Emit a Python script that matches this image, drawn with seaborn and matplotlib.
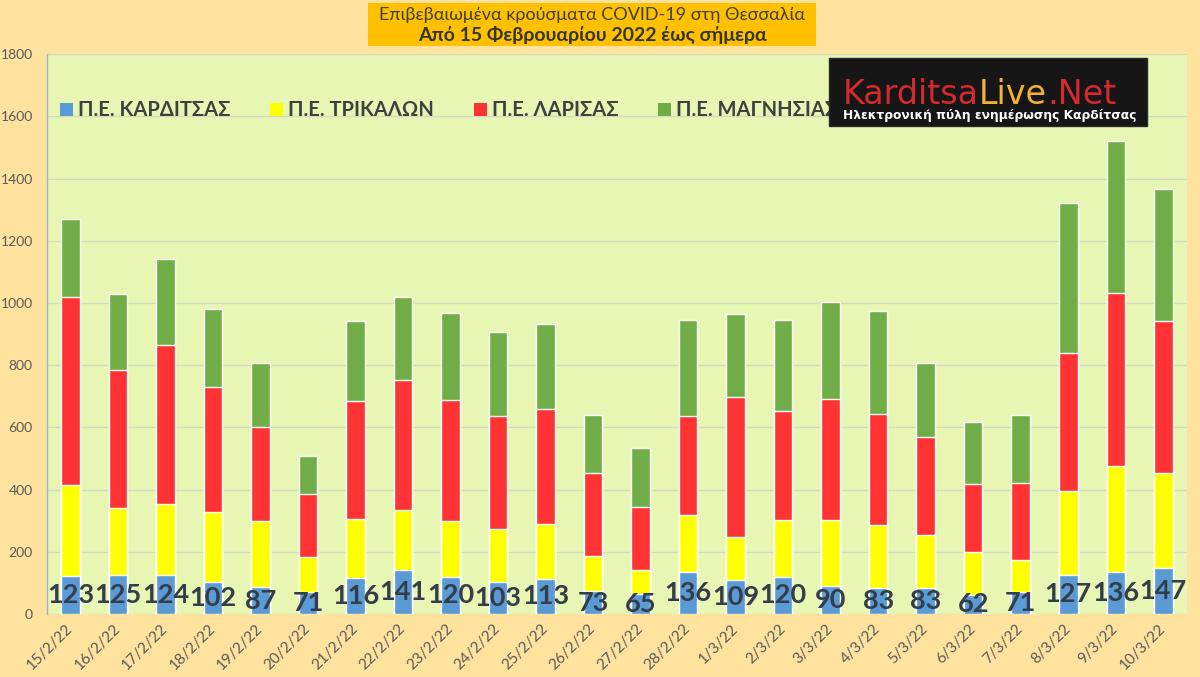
import matplotlib
matplotlib.use('Agg')
import matplotlib.pyplot as plt
import pandas as pd
import seaborn as sns
from matplotlib.patches import Rectangle, Patch

# daily confirmed cases per regional unit
dates = ['15/2/22', '16/2/22', '17/2/22', '18/2/22', '19/2/22', '20/2/22', '21/2/22',
         '22/2/22', '23/2/22', '24/2/22', '25/2/22', '26/2/22', '27/2/22', '28/2/22',
         '1/3/22', '2/3/22', '3/3/22', '4/3/22', '5/3/22', '6/3/22', '7/3/22',
         '8/3/22', '9/3/22', '10/3/22']
karditsa = [123, 125, 124, 102, 87, 71, 116, 141, 120, 103, 113, 73, 65, 136,
            109, 120, 90, 83, 83, 62, 71, 127, 136, 147]
trikala = [292, 215, 229, 225, 213, 113, 190, 195, 180, 171, 178, 114, 77, 183,
           140, 182, 212, 203, 170, 138, 104, 270, 340, 308]
larisa = [603, 443, 513, 404, 302, 202, 380, 415, 389, 362, 369, 268, 202, 318,
          450, 351, 388, 358, 317, 218, 247, 441, 555, 486]
magnisia = [253, 245, 274, 249, 206, 122, 257, 267, 278, 270, 271, 185, 189, 307,
            267, 291, 312, 329, 238, 201, 218, 485, 489, 427]

names = ['Π.Ε. ΚΑΡΔΙΤΣΑΣ', 'Π.Ε. ΤΡΙΚΑΛΩΝ', 'Π.Ε. ΛΑΡΙΣΑΣ', 'Π.Ε. ΜΑΓΝΗΣΙΑΣ']
colors = ['#5B9BD5', '#FFFF00', '#FF3333', '#70AD47']
yticks = [0, 200, 400, 600, 800, 1000, 1200, 1400, 1600, 1800]

df = pd.DataFrame({'date': dates, 'karditsa': karditsa, 'trikala': trikala,
                   'larisa': larisa, 'magnisia': magnisia})
# cumulative heights for the stacked look
df['s1'] = df['karditsa']
df['s2'] = df['s1'] + df['trikala']
df['s3'] = df['s2'] + df['larisa']
df['s4'] = df['s3'] + df['magnisia']

sns.set_style('white')
plt.rcParams['font.family'] = ['Lato', 'Noto Sans', 'DejaVu Sans']

fig = plt.figure(figsize=(12, 6.77), dpi=100, facecolor='#FFE29E')
ax = fig.add_axes([0.0389, 0.093, 0.9503, 0.827])
ax.set_facecolor('#E8F6B4')

# draw tallest first so each lower segment sits on top
for col, color in zip(['s4', 's3', 's2', 's1'], colors[::-1]):
    sns.barplot(data=df, x='date', y=col, color=color, saturation=1,
                width=0.39, errorbar=None, ax=ax, zorder=2)

ax.bar_label(ax.containers[-1], labels=[str(v) for v in karditsa],
             label_type='center', fontsize=19.5, fontweight='bold',
             color='#343D4A', zorder=5)

ax.set_ylim(0, 1800)
ax.set_yticks(yticks)
ax.set_axisbelow(True)
ax.yaxis.grid(True, color='#D3DAC0', linewidth=1)
ax.set_xlabel('')
ax.set_ylabel('')
ax.tick_params(axis='y', length=0, pad=10, labelsize=10, labelcolor='#595959')
ax.tick_params(axis='x', length=0, pad=9, labelsize=11, labelcolor='#595959',
               labelrotation=45)
for lbl in ax.get_xticklabels():
    lbl.set_ha('right')
    lbl.set_va('center')
    lbl.set_rotation_mode('anchor')

for side in ['top', 'right', 'bottom']:
    ax.spines[side].set_visible(False)
ax.spines['left'].set_color('#9DB3C6')
ax.spines['left'].set_linewidth(1)

handles = [Patch(facecolor=c, edgecolor='none') for c in colors]
leg = ax.legend(handles, names, ncol=4, loc='center left', bbox_to_anchor=(-0.004, 0.9),
                frameon=False, prop={'size': 14.5, 'weight': 'bold'},
                handlelength=0.62, handleheight=0.62, handletextpad=0.25,
                columnspacing=2.0)
leg.set_zorder(4)
for t in leg.get_texts():
    t.set_color('#404040')

# title box
fig.add_artist(Rectangle((368 / 1200, 1 - 46 / 677), 448 / 1200, 43 / 677,
                         transform=fig.transFigure, facecolor='#FFC000',
                         edgecolor='none', zorder=3))
fig.text(592 / 1200, 1 - 15 / 677, 'Επιβεβαιωμένα κρούσματα COVID-19 στη Θεσσαλία',
         ha='center', va='center', fontsize=13, color='#3E4030', zorder=4)
fig.text(592 / 1200, 1 - 35 / 677, 'Από 15 Φεβρουαρίου 2022 έως σήμερα',
         ha='center', va='center', fontsize=14, fontweight='bold',
         color='#333525', zorder=4)

# site logo box, kept inside the axes so its texts can sit on top of it
ax.add_patch(Rectangle((829 / 1200, 1 - 126 / 677), 318 / 1200, 68 / 677,
                       transform=fig.transFigure, facecolor='#161616',
                       edgecolor='#2a2a2a', zorder=6, clip_on=False))
t1 = ax.annotate('Karditsa', xy=(843, 677 - 104), xycoords='figure pixels',
                 fontsize=24, color='#D42A2E', family='DejaVu Sans',
                 ha='left', va='baseline', annotation_clip=False, zorder=7)
t2 = ax.annotate('Live', xy=(1, 0), xycoords=t1, fontsize=24, color='#F2B233',
                 family='DejaVu Sans', ha='left', va='bottom',
                 annotation_clip=False, zorder=7)
t3 = ax.annotate('.Net', xy=(1, 0), xycoords=t2, fontsize=24, color='#D42A2E',
                 family='DejaVu Sans', ha='left', va='bottom',
                 annotation_clip=False, zorder=7)
ax.annotate('Ηλεκτρονική πύλη ενημέρωσης Καρδίτσας', xy=(990, 677 - 116),
            xycoords='figure pixels', fontsize=8.8, color='white',
            fontweight='bold', family='DejaVu Sans', ha='center', va='center',
            annotation_clip=False, zorder=7)

fig.savefig('out.png', dpi=100, facecolor=fig.get_facecolor())
